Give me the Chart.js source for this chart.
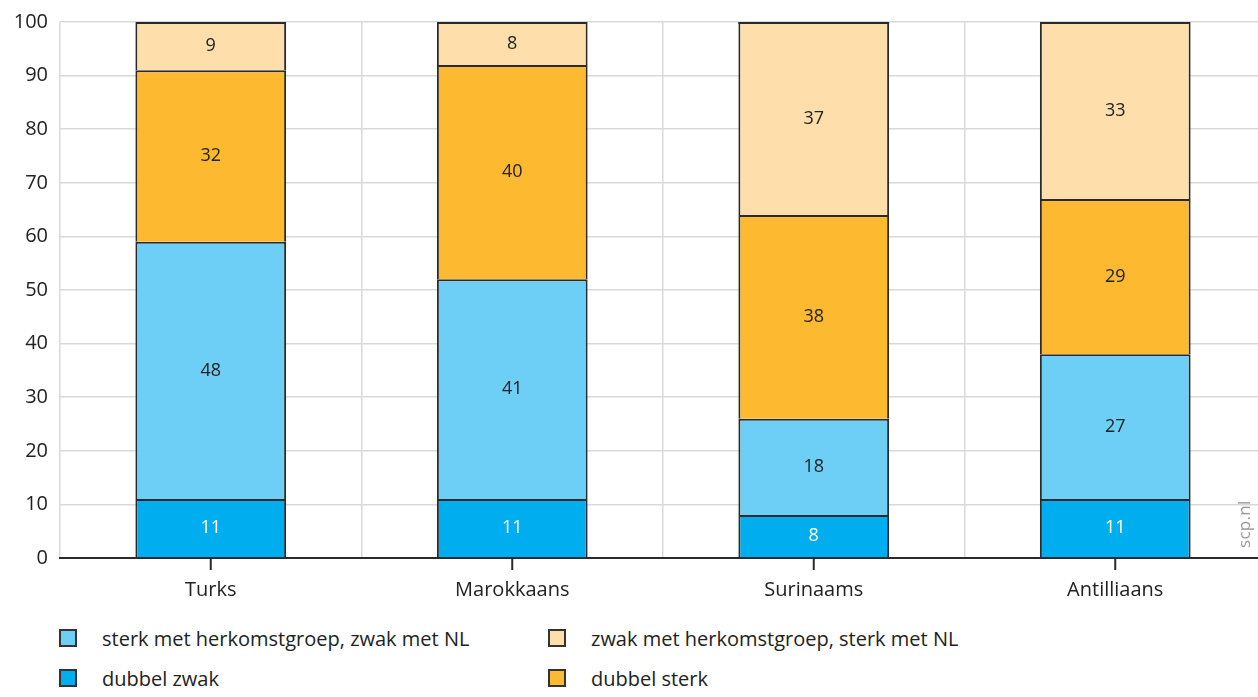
<!DOCTYPE html>
<html lang="nl">
<head>
<meta charset="utf-8">
<title>Verbondenheid met herkomstgroep en Nederland</title>
<script src="https://cdn.jsdelivr.net/npm/chart.js@4.4.1/dist/chart.umd.min.js"></script>
<style>
    html, body { margin: 0; padding: 0; background: #fff; overflow: hidden; }
    body { width: 1258px; height: 697px; position: relative; font-family: "Open Sans", sans-serif; color: #222; }
    #chart-wrap { position: absolute; left: 0; top: 0; width: 1266px; height: 610px; }
    #legend { position: absolute; left: 59px; top: 624px; display: grid; grid-template-columns: 489px 500px; row-gap: 12px; }
    .legend-item { display: flex; align-items: center; font-size: 20px; height: 28px; color: #222; }
    .legend-box { box-sizing: border-box; width: 18px; height: 18px; border: 2px solid #333; margin-right: 25px; flex: none; }
    #credit { position: absolute; left: 1232px; top: 548px; transform: rotate(-90deg); transform-origin: left top; font-size: 17px; color: #9a9a9a; letter-spacing: 0.3px; }
</style>
</head>
<body>
<div id="chart-wrap"><canvas id="stackChart"></canvas></div>
<div id="legend"></div>
<div id="credit">scp.nl</div>

<script>
    // --- Datos ---
    const categorieen = ['Turks', 'Marokkaans', 'Surinaams', 'Antilliaans'];
    const dubbelZwak = [11, 11, 8, 11];
    const sterkHerkomst = [48, 41, 18, 27];
    const dubbelSterk = [32, 40, 38, 29];
    const zwakHerkomst = [9, 8, 37, 33];
    const yTicks = [0, 10, 20, 30, 40, 50, 60, 70, 80, 90, 100];

    const kleuren = {
        dubbelZwak: '#00aeef',
        sterkHerkomst: '#6dcff6',
        dubbelSterk: '#fdb92f',
        zwakHerkomst: '#fedfab'
    };

    const datasets = [
        { label: 'dubbel zwak', data: dubbelZwak, backgroundColor: kleuren.dubbelZwak, labelColor: '#ffffff' },
        { label: 'sterk met herkomstgroep, zwak met NL', data: sterkHerkomst, backgroundColor: kleuren.sterkHerkomst, labelColor: '#222222' },
        { label: 'dubbel sterk', data: dubbelSterk, backgroundColor: kleuren.dubbelSterk, labelColor: '#222222' },
        { label: 'zwak met herkomstgroep, sterk met NL', data: zwakHerkomst, backgroundColor: kleuren.zwakHerkomst, labelColor: '#222222' }
    ].map(ds => ({
        ...ds,
        borderColor: '#2a2a2a',
        borderWidth: 2,
        borderSkipped: 'start', // de bovenrand van het segment eronder vormt de scheidingslijn
        barPercentage: 0.5,
        categoryPercentage: 1,
        clip: { left: 0, right: 0, top: 0, bottom: 0 }
    }));

    // Waarden in het midden van elk segment
    const segmentLabels = {
        id: 'segmentLabels',
        afterDatasetsDraw(chart) {
            const ctx = chart.ctx;
            const yScale = chart.scales.y;
            ctx.save();
            ctx.font = '18px "Open Sans", sans-serif';
            ctx.textAlign = 'center';
            ctx.textBaseline = 'middle';
            chart.data.datasets.forEach((ds, i) => {
                chart.getDatasetMeta(i).data.forEach((bar, j) => {
                    const top = Math.max(bar.y, yScale.top);
                    const mid = (top + bar.base) / 2;
                    ctx.fillStyle = ds.labelColor;
                    ctx.fillText(String(ds.data[j]), bar.x, mid);
                });
            });
            ctx.restore();
        }
    };

    // Korte streepjes onder de x-as en afgesneden bovenranden op 100
    const categoryTicks = {
        id: 'categoryTicks',
        afterDraw(chart) {
            const ctx = chart.ctx;
            const xScale = chart.scales.x;
            const yScale = chart.scales.y;
            ctx.save();
            ctx.strokeStyle = '#2a2a2a';
            ctx.lineWidth = 2;
            categorieen.forEach((c, i) => {
                const x = xScale.getPixelForTick(i);
                ctx.beginPath();
                ctx.moveTo(x, xScale.top);
                ctx.lineTo(x, xScale.top + 12);
                ctx.stroke();
            });
            const lastMeta = chart.getDatasetMeta(chart.data.datasets.length - 1);
            lastMeta.data.forEach(bar => {
                if (bar.y < yScale.top) {
                    ctx.beginPath();
                    ctx.moveTo(bar.x - bar.width / 2, yScale.top + 1);
                    ctx.lineTo(bar.x + bar.width / 2, yScale.top + 1);
                    ctx.stroke();
                }
            });
            ctx.restore();
        }
    };

    const chartInstance = new Chart(document.getElementById('stackChart'), {
        type: 'bar',
        data: { labels: categorieen, datasets: datasets },
        options: {
            responsive: true,
            maintainAspectRatio: false,
            animation: false,
            layout: { padding: { top: 22, right: 0, bottom: 0, left: 0 } },
            plugins: {
                legend: { display: false },
                tooltip: { enabled: false }
            },
            scales: {
                x: {
                    stacked: true,
                    grid: { offset: true, color: '#d9d9d9', lineWidth: 1.5, drawTicks: false },
                    border: { display: true, color: '#2a2a2a', width: 2 },
                    ticks: { color: '#222', font: { family: 'Open Sans', size: 20 }, padding: 20 },
                    afterFit(scale) { scale.height = 52; }
                },
                y: {
                    stacked: true,
                    min: 0,
                    max: 100,
                    afterBuildTicks(scale) { scale.ticks = yTicks.map(v => ({ value: v })); },
                    grid: { color: '#d9d9d9', lineWidth: 1.5, drawTicks: false },
                    border: { display: false },
                    ticks: { color: '#222', font: { family: 'Open Sans', size: 20, lineHeight: 1 }, padding: 12 },
                    afterFit(scale) { scale.width = 60; }
                }
            }
        },
        plugins: [segmentLabels, categoryTicks]
    });

    // --- Legenda ---
    const legendOrder = [1, 3, 0, 2];
    const legendDiv = document.getElementById('legend');
    legendOrder.forEach(i => {
        const ds = datasets[i];
        const item = document.createElement('div');
        item.className = 'legend-item';
        item.innerHTML = `<span class="legend-box" style="background:${ds.backgroundColor}"></span><span>${ds.label}</span>`;
        legendDiv.appendChild(item);
    });
</script>
</body>
</html>
